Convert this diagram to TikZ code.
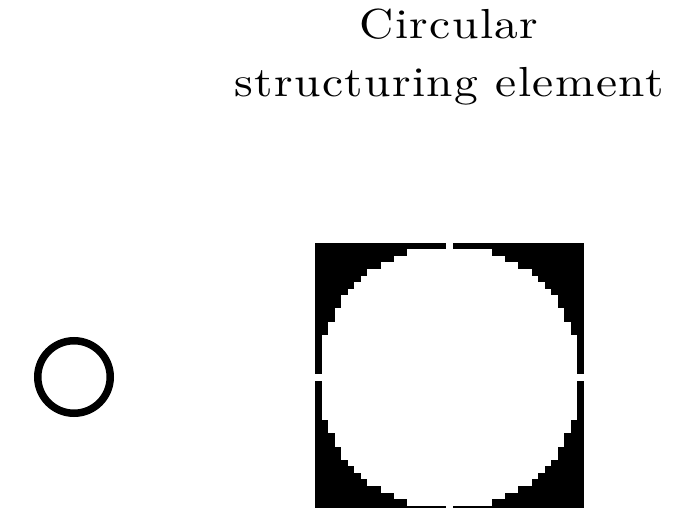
\documentclass[tikz,border=0pt]{standalone}
\usepackage{fontspec}
\setmainfont{Latin Modern Roman}
\newfontfamily\titlefont[LetterSpace=3]{lmroman10-regular.otf}
\tikzset{
  titletext/.style={align=center, inner sep=0pt, xscale=1.13, font=\titlefont\fontsize{42}{58}\selectfont},
  ring/.style={circle, draw=black, line width=7.5pt, minimum size=72.5pt, inner sep=0pt},
  sebox/.style={fill=black, minimum size=269pt, inner sep=0pt}
}
\begin{document}
\begin{tikzpicture}[x=1pt,y=-1pt]
\useasboundingbox (0,0) rectangle (682,508);
\clip (0,0) rectangle (682,508);
\node[titletext, anchor=base] (title) at (449,97) {Circular\\structuring element};
\node[ring] (circ) at (74,377) {};
\node[sebox] (se) at (449.5,377.5) {};
\def\cs{6.561}
\foreach \j in {-20,...,20}{
  \pgfmathsetmacro\dx{floor(sqrt(400-\j*\j)+0.001)}
  \fill[white] ({449.5-(\dx+0.5)*\cs},{377.5+(\j-0.5)*\cs-0.2}) rectangle ({449.5+(\dx+0.5)*\cs},{377.5+(\j+0.5)*\cs+0.2});
}
\end{tikzpicture}
\end{document}
